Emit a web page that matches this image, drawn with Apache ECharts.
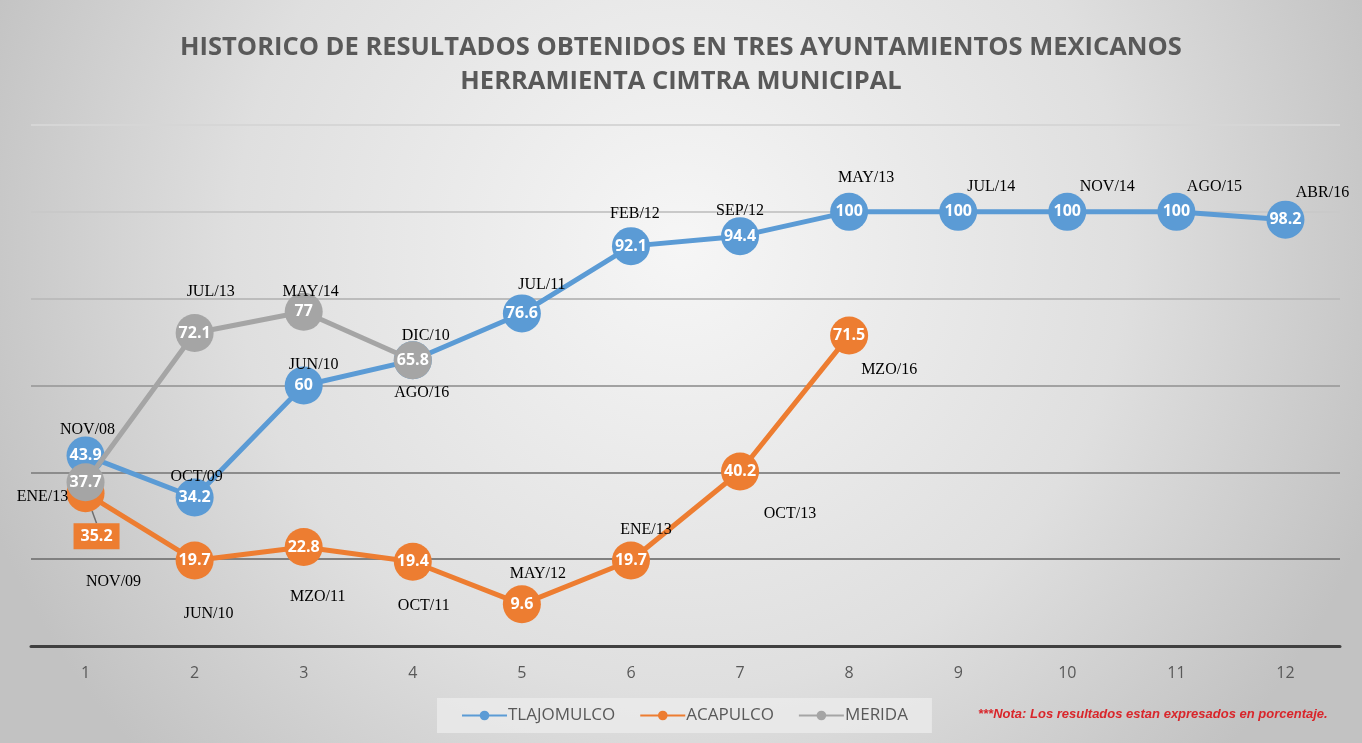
<!DOCTYPE html>
<html>
<head>
<meta charset="utf-8">
<script src="https://cdn.jsdelivr.net/npm/echarts@6/dist/echarts.min.js"></script>
<style>
  html, body { margin: 0; padding: 0; }
  #chart { width: 1362px; height: 743px; }
</style>
</head>
<body>
<div id="chart"></div>
<script>
// data
const categories = ['1', '2', '3', '4', '5', '6', '7', '8', '9', '10', '11', '12'];

const tlajomulco = [43.9, 34.2, 60, 65.8, 76.6, 92.1, 94.4, 100, 100, 100, 100, 98.2];
const tlajomulcoDates = ['NOV/08', 'OCT/09', 'JUN/10', 'DIC/10', 'JUL/11', 'FEB/12', 'SEP/12', 'MAY/13', 'JUL/14', 'NOV/14', 'AGO/15', 'ABR/16'];

const acapulco = [35.2, 19.7, 22.8, 19.4, 9.6, 19.7, 40.2, 71.5];
const acapulcoDates = ['NOV/09', 'JUN/10', 'MZO/11', 'OCT/11', 'MAY/12', 'ENE/13', 'OCT/13', 'MZO/16'];

const merida = [37.7, 72.1, 77, 65.8];
const meridaDates = ['ENE/13', 'JUL/13', 'MAY/14', 'AGO/16'];

// where each date label sits relative to its point (px)
const tlajomulcoDateOffsets = [[2, -26], [2, -21], [10, -21], [13, -25], [20, -29], [4, -32], [0, -25], [17, -34], [33, -25], [40, -25], [38, -25], [37, -27]];
const acapulcoDateOffsets = [[28, 89], [14, 53], [14, 50], [11, 44], [16, -31], [15, -31], [50, 42], [40, 34]];
const meridaDateOffsets = [[-43, 14], [16, -41], [7, -20], [9, 32]];

const BLUE = '#5B9BD5';
const ORANGE = '#ED7D31';
const GREY = '#A5A5A5';

const chart = echarts.init(document.getElementById('chart'));

function valueSeries(name, values, color, z) {
    return {
        name: name,
        type: 'line',
        data: values,
        z: z,
        symbol: 'circle',
        symbolSize: 38,
        lineStyle: { color: color, width: 5 },
        itemStyle: { color: color },
        label: {
            show: true,
            position: 'inside',
            color: '#fff',
            fontFamily: 'Open Sans',
            fontWeight: 'bold',
            fontSize: 16,
        },
        emphasis: { disabled: true },
        animation: false,
    };
}

function dateSeries(name, values, dates, offsets) {
    return {
        name: name,
        type: 'line',
        data: values,
        z: 10,
        symbol: 'circle',
        symbolSize: 1,
        itemStyle: { color: 'transparent' },
        lineStyle: { width: 0, color: 'transparent' },
        label: {
            show: true,
            position: 'inside',
            color: '#000',
            fontFamily: 'Liberation Serif',
            fontSize: 16,
            formatter: p => dates[p.dataIndex],
        },
        labelLayout: p => ({
            dx: offsets[p.dataIndex][0],
            dy: offsets[p.dataIndex][1],
            hideOverlap: false,
        }),
        emphasis: { disabled: true },
        silent: true,
        animation: false,
    };
}

const acapulcoSeries = valueSeries('ACAPULCO', acapulco, ORANGE, 3);
acapulcoSeries.data = acapulco.map((v, i) => i === 0 ? {
    value: v,
    label: { backgroundColor: ORANGE, padding: [6, 7, 4, 7] },
    labelLine: { show: true, lineStyle: { color: '#6f6f6f', width: 1.5 } },
} : v);
acapulcoSeries.labelLayout = function (p) {
    if (p.dataIndex === 0) return { dx: 11, dy: 43 };
};

const option = {
    backgroundColor: {
        type: 'radial', x: 0.5, y: 0.33, r: 1.0,
        colorStops: [
            { offset: 0, color: '#f6f6f6' },
            { offset: 0.6, color: '#dfdfdf' },
            { offset: 1, color: '#c2c2c2' },
        ],
    },
    title: {
        text: 'HISTORICO DE RESULTADOS OBTENIDOS EN TRES AYUNTAMIENTOS MEXICANOS\nHERRAMIENTA CIMTRA MUNICIPAL',
        left: 'center',
        top: 26,
        textStyle: {
            fontFamily: 'Open Sans',
            fontWeight: 'bold',
            fontSize: 25.5,
            lineHeight: 34,
            color: '#595959',
        },
    },
    legend: {
        data: ['TLAJOMULCO', 'ACAPULCO', 'MERIDA'],
        left: 437,
        top: 698,
        width: 496,
        padding: [9, 24, 9, 24],
        itemWidth: 45,
        itemHeight: 12,
        itemGap: 24,
        backgroundColor: 'rgba(236,236,236,0.75)',
        textStyle: { fontFamily: 'Open Sans', fontSize: 17, color: '#595959', padding: [0, 0, 0, -4] },
        selectedMode: false,
    },
    grid: { left: 31, right: 22, top: 125, bottom: 97 },
    xAxis: {
        type: 'category',
        data: categories,
        boundaryGap: true,
        axisLine: { lineStyle: { color: '#404040', width: 3 } },
        axisTick: { show: false },
        axisLabel: { color: '#595959', fontSize: 16, margin: 19, fontFamily: 'Open Sans' },
    },
    yAxis: {
        type: 'value',
        min: 0,
        max: 120,
        interval: 20,
        axisLabel: { show: false },
        axisLine: { show: false },
        axisTick: { show: false },
        splitLine: {
            lineStyle: {
                width: 2,
                color: ['#444444', '#808080', '#8c8c8c', '#a2a2a2', '#bcbcbc', '#c9c9c9', '#d6d6d6'],
            },
        },
    },
    graphic: [{
        type: 'text',
        left: 978,
        top: 708,
        style: {
            text: '***Nota: Los resultados estan expresados en porcentaje.',
            fill: '#D9262B',
            font: 'italic bold 13px "Liberation Sans"',
        },
    }],
    series: [
        valueSeries('TLAJOMULCO', tlajomulco, BLUE, 2),
        acapulcoSeries,
        valueSeries('MERIDA', merida, GREY, 4),
        dateSeries('fechas-t', tlajomulco, tlajomulcoDates, tlajomulcoDateOffsets),
        dateSeries('fechas-a', acapulco, acapulcoDates, acapulcoDateOffsets),
        dateSeries('fechas-m', merida, meridaDates, meridaDateOffsets),
    ],
};

chart.setOption(option);
</script>
</body>
</html>
